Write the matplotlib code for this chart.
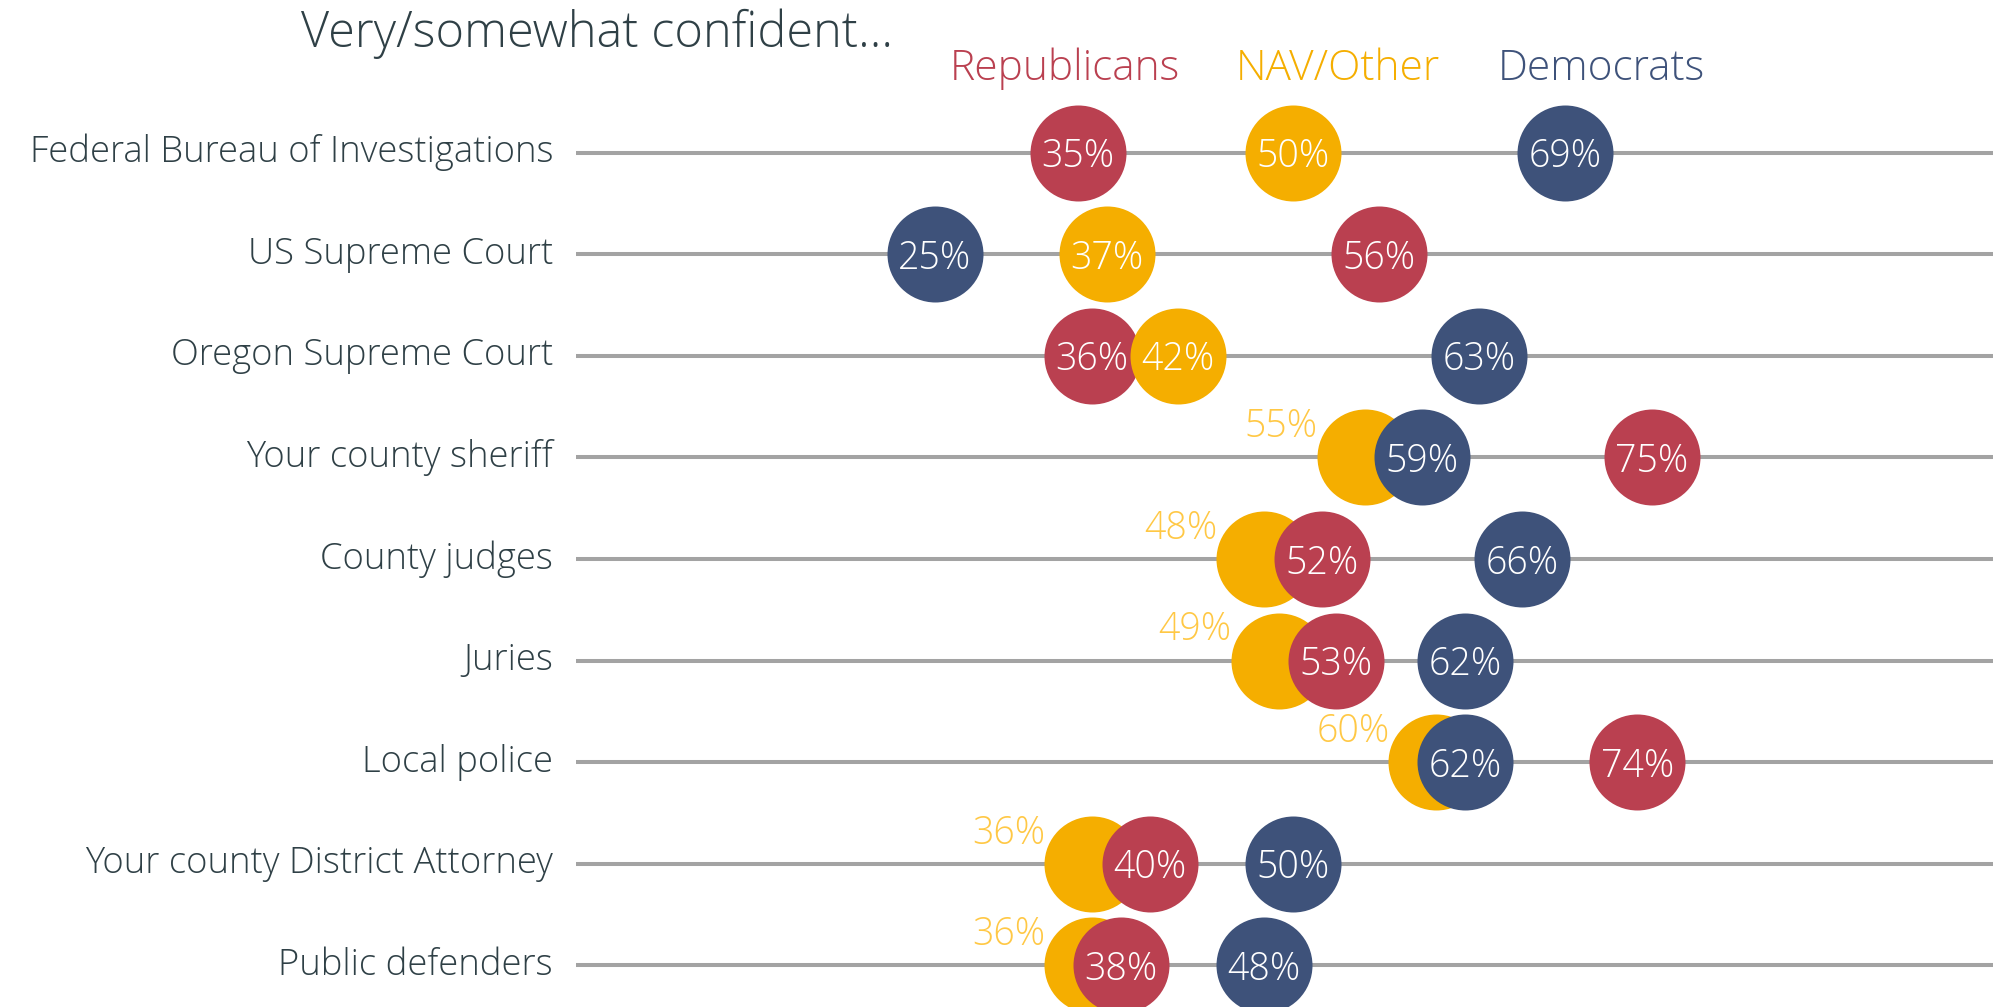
import matplotlib
matplotlib.use("Agg")
import matplotlib.pyplot as plt
from matplotlib import font_manager

categories = ["Federal Bureau of Investigations", "US Supreme Court", "Oregon Supreme Court",
              "Your county sheriff", "County judges", "Juries", "Local police",
              "Your county District Attorney", "Public defenders"]
republicans = [35, 56, 36, 75, 52, 53, 74, 40, 38]
nav_other = [50, 37, 42, 55, 48, 49, 60, 36, 36]
democrats = [69, 25, 63, 59, 66, 62, 62, 50, 48]
# NAV/Other circle hidden behind another circle -> label placed outside
nav_label_outside = [False, False, False, True, True, True, True, True, True]
series_names = ["Republicans", "NAV/Other", "Democrats"]
title = "Very/somewhat confident\u2026"

RED = "#BA4050"
YEL = "#F5AE00"
YEL_LIGHT = "#FFC845"
NAVY = "#3E527A"
GRID = "#A3A3A3"
TXT = "#2F4046"

fonts = font_manager.fontManager.ttflist
names = {f.name for f in fonts}
FAM = "Open Sans" if "Open Sans" in names else "DejaVu Sans"
light_ok = any(f.name == FAM and f.weight in (300, "light") for f in fonts)
WT = "light" if light_ok else "normal"
plt.rcParams["font.family"] = [FAM, "DejaVu Sans"]

W, H, DPI = 1993, 1007, 100
fig = plt.figure(figsize=(W / DPI, H / DPI), dpi=DPI)
x0 = 576 / W
ax = fig.add_axes([x0, 0, 1 - x0, 1])
px_per_unit = 14.34
ax.set_xlim(0, (W - 576) / px_per_unit)
row0, rowstep = 152.5, 101.6
ax.set_ylim((H - row0) / rowstep, -row0 / rowstep)
ax.axis("off")

n = len(categories)
ys = list(range(n))
for i in ys:
    ax.plot([0, 100], [i, i], color=GRID, lw=2.9, solid_capstyle="butt", zorder=1, clip_on=True)
    fig.text(553 / W, 1 - (row0 + i * rowstep) / H, categories[i], ha="right", va="center",
             fontsize=26.2, color=TXT, fontweight=WT)

d_pt = 96 * 72 / DPI
S = d_pt ** 2
lab_fs = 27
for i in ys:
    ax.scatter([republicans[i]], [i], s=S, color=RED, zorder=3, linewidths=0, clip_on=False)
    ax.scatter([democrats[i]], [i], s=S, color=NAVY, zorder=3, linewidths=0, clip_on=False)
    ax.text(republicans[i], i, f"{republicans[i]}%", ha="center", va="center_baseline",
            color="white", fontsize=lab_fs, zorder=5, fontweight=WT)
    ax.text(democrats[i], i, f"{democrats[i]}%", ha="center", va="center_baseline",
            color="white", fontsize=lab_fs, zorder=5, fontweight=WT)
    if nav_label_outside[i]:
        ax.scatter([nav_other[i]], [i], s=S, color=YEL, zorder=2, linewidths=0, clip_on=False)
        ax.annotate(f"{nav_other[i]}%", xy=(nav_other[i], i), xytext=(-47, 20),
                    textcoords="offset pixels", ha="right", va="baseline",
                    color=YEL_LIGHT, fontsize=lab_fs, zorder=6, fontweight=WT)
    else:
        ax.scatter([nav_other[i]], [i], s=S, color=YEL, zorder=4, linewidths=0, clip_on=False)
        ax.text(nav_other[i], i, f"{nav_other[i]}%", ha="center", va="center_baseline",
                color="white", fontsize=lab_fs, zorder=5, fontweight=WT)

fig.text(301 / W, 1 - 47 / H, title, ha="left", va="baseline", fontsize=35,
         color=TXT, fontweight=WT)
for name, col, cx in zip(series_names, [RED, YEL, NAVY], [1065, 1338, 1601]):
    fig.text(cx / W, 1 - 80 / H, name, ha="center", va="baseline", fontsize=30.5,
             color=col, fontweight=WT)

fig.savefig("out.png", dpi=DPI, facecolor="white")
